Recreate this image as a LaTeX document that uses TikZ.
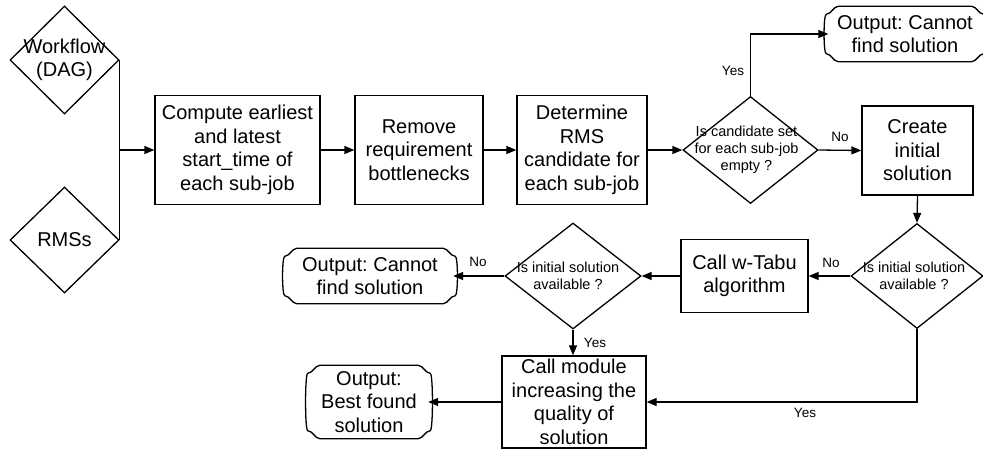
\documentclass[tikz,border=0pt]{standalone}
\usepackage{fontspec}
\setmainfont{Liberation Sans}
\usetikzlibrary{shapes.geometric,arrows.meta,calc}
\frenchspacing

% Terminal outline: chamfered corners, sides bowed slightly outwards
\newcommand{\termoutline}[1]{%
  \draw[link,rounded corners=2pt]
    ($(#1.north west)+(8pt,0pt)$) -- ($(#1.north east)+(-8pt,0pt)$)
    -- ($(#1.north east)+(0pt,-8pt)$)
    .. controls ($(#1.north east)+(5pt,-8pt)$) and ($(#1.south east)+(5pt,8pt)$) ..
    ($(#1.south east)+(0pt,8pt)$)
    -- ($(#1.south east)+(-8pt,0pt)$) -- ($(#1.south west)+(8pt,0pt)$)
    -- ($(#1.south west)+(0pt,8pt)$)
    .. controls ($(#1.south west)+(-5pt,8pt)$) and ($(#1.north west)+(-5pt,-8pt)$) ..
    ($(#1.north west)+(0pt,-8pt)$) -- cycle;}

\begin{document}
\begin{tikzpicture}[x=1pt,y=-1pt,
  link/.style={line width=1.3pt},
  flow/.style={line width=1.3pt,-{Triangle[length=10pt,width=8pt]}},
  box/.style={draw,line width=1.3pt,rectangle,inner sep=0pt,align=center,
    font=\fontsize{20}{23.5}\selectfont},
  dec/.style={draw,line width=1.3pt,diamond,inner sep=0pt},
  dtext/.style={align=center,inner sep=0pt,font=\fontsize{14.5}{17}\selectfont},
  term/.style={inner sep=0pt,align=center,font=\fontsize{20}{23.5}\selectfont},
  lbl/.style={inner sep=0pt,font=\fontsize{13.5}{16}\selectfont}]
\useasboundingbox (0,0) rectangle (983,451);

% inputs
\node[dec,minimum width=109,minimum height=108,
  label={[dtext,font=\fontsize{20}{23.5}\selectfont]center:Workflow\\(DAG)}] (wf) at (64.5,60) {};
\node[dec,minimum width=109,minimum height=106,
  label={[dtext,font=\fontsize{20}{23.5}\selectfont]center:RMSs}] (rms) at (64.5,240) {};
\coordinate (jn) at (119,150);

% main row
\node[box,minimum width=165,minimum height=109] (compute) at (237.5,150)
  {Compute earliest\\and latest\\start\_time of\\each sub-job};
\node[box,minimum width=128,minimum height=109] (remove) at (419,150)
  {Remove\\requirement\\bottlenecks};
\node[box,minimum width=130,minimum height=109] (determine) at (582,150)
  {Determine\\RMS\\candidate for\\each sub-job};
\node[dec,minimum width=135,minimum height=107,
  label={[dtext,xshift=-4pt]center:Is candidate set\\for each sub-job\\empty ?}] (d1) at (750.5,150) {};
\node[term,minimum width=153,minimum height=55] (out1) at (905,34)
  {Output: Cannot\\find solution};
\termoutline{out1}
\node[box,minimum width=111,minimum height=89] (create) at (917.5,150.5)
  {Create\\initial\\solution};

% second row
\node[dec,minimum width=132,minimum height=105,
  label={[dtext,xshift=-3pt]center:Is initial solution\\available ?}] (d2) at (917,276) {};
\node[box,minimum width=127,minimum height=73] (tabu) at (744.5,276)
  {Call w-Tabu\\algorithm};
\node[dec,minimum width=136,minimum height=106,
  label={[dtext,xshift=-5pt]center:Is initial solution\\available ?}] (d3) at (573,276) {};
\node[term,minimum width=166,minimum height=55] (out2) at (370,276)
  {Output: Cannot\\find solution};
\termoutline{out2}

% third row
\node[box,minimum width=144,minimum height=92] (call) at (574,402)
  {Call module\\increasing the\\quality of\\solution};
\node[term,minimum width=118,minimum height=73] (out3) at (369,402)
  {Output:\\Best found\\solution};
\termoutline{out3}

% connectors
\draw[link] (wf.east) -- (rms.east);
\draw[flow] (jn) -- (compute.west);
\draw[flow] (compute) -- (remove);
\draw[flow] (remove) -- (determine);
\draw[flow] (determine) -- (d1);
\draw[flow] (d1.north) |- (out1.west);
\draw[flow] (d1.east) -- (create.west);
\draw[flow] (create.south) -- (d2.north);
\draw[flow] (d2.west) -- (tabu.east);
\draw[flow] (tabu.west) -- (d3.east);
\draw[flow] (d3.west) -- (out2.east);
\draw[flow] (d3.south) -- (d3.south |- call.north);
\draw[flow] (call.west) -- (out3.east);
\draw[flow] (d2.south) |- (call.east);

% branch labels
\node[lbl] (l1) at (733,71) {Yes};
\node[lbl] (l2) at (840,137) {No};
\node[lbl] (l3) at (831,263) {No};
\node[lbl] (l4) at (805,413) {Yes};
\node[lbl] (l5) at (478,262) {No};
\node[lbl] (l6) at (595,343) {Yes};
\end{tikzpicture}
\end{document}
